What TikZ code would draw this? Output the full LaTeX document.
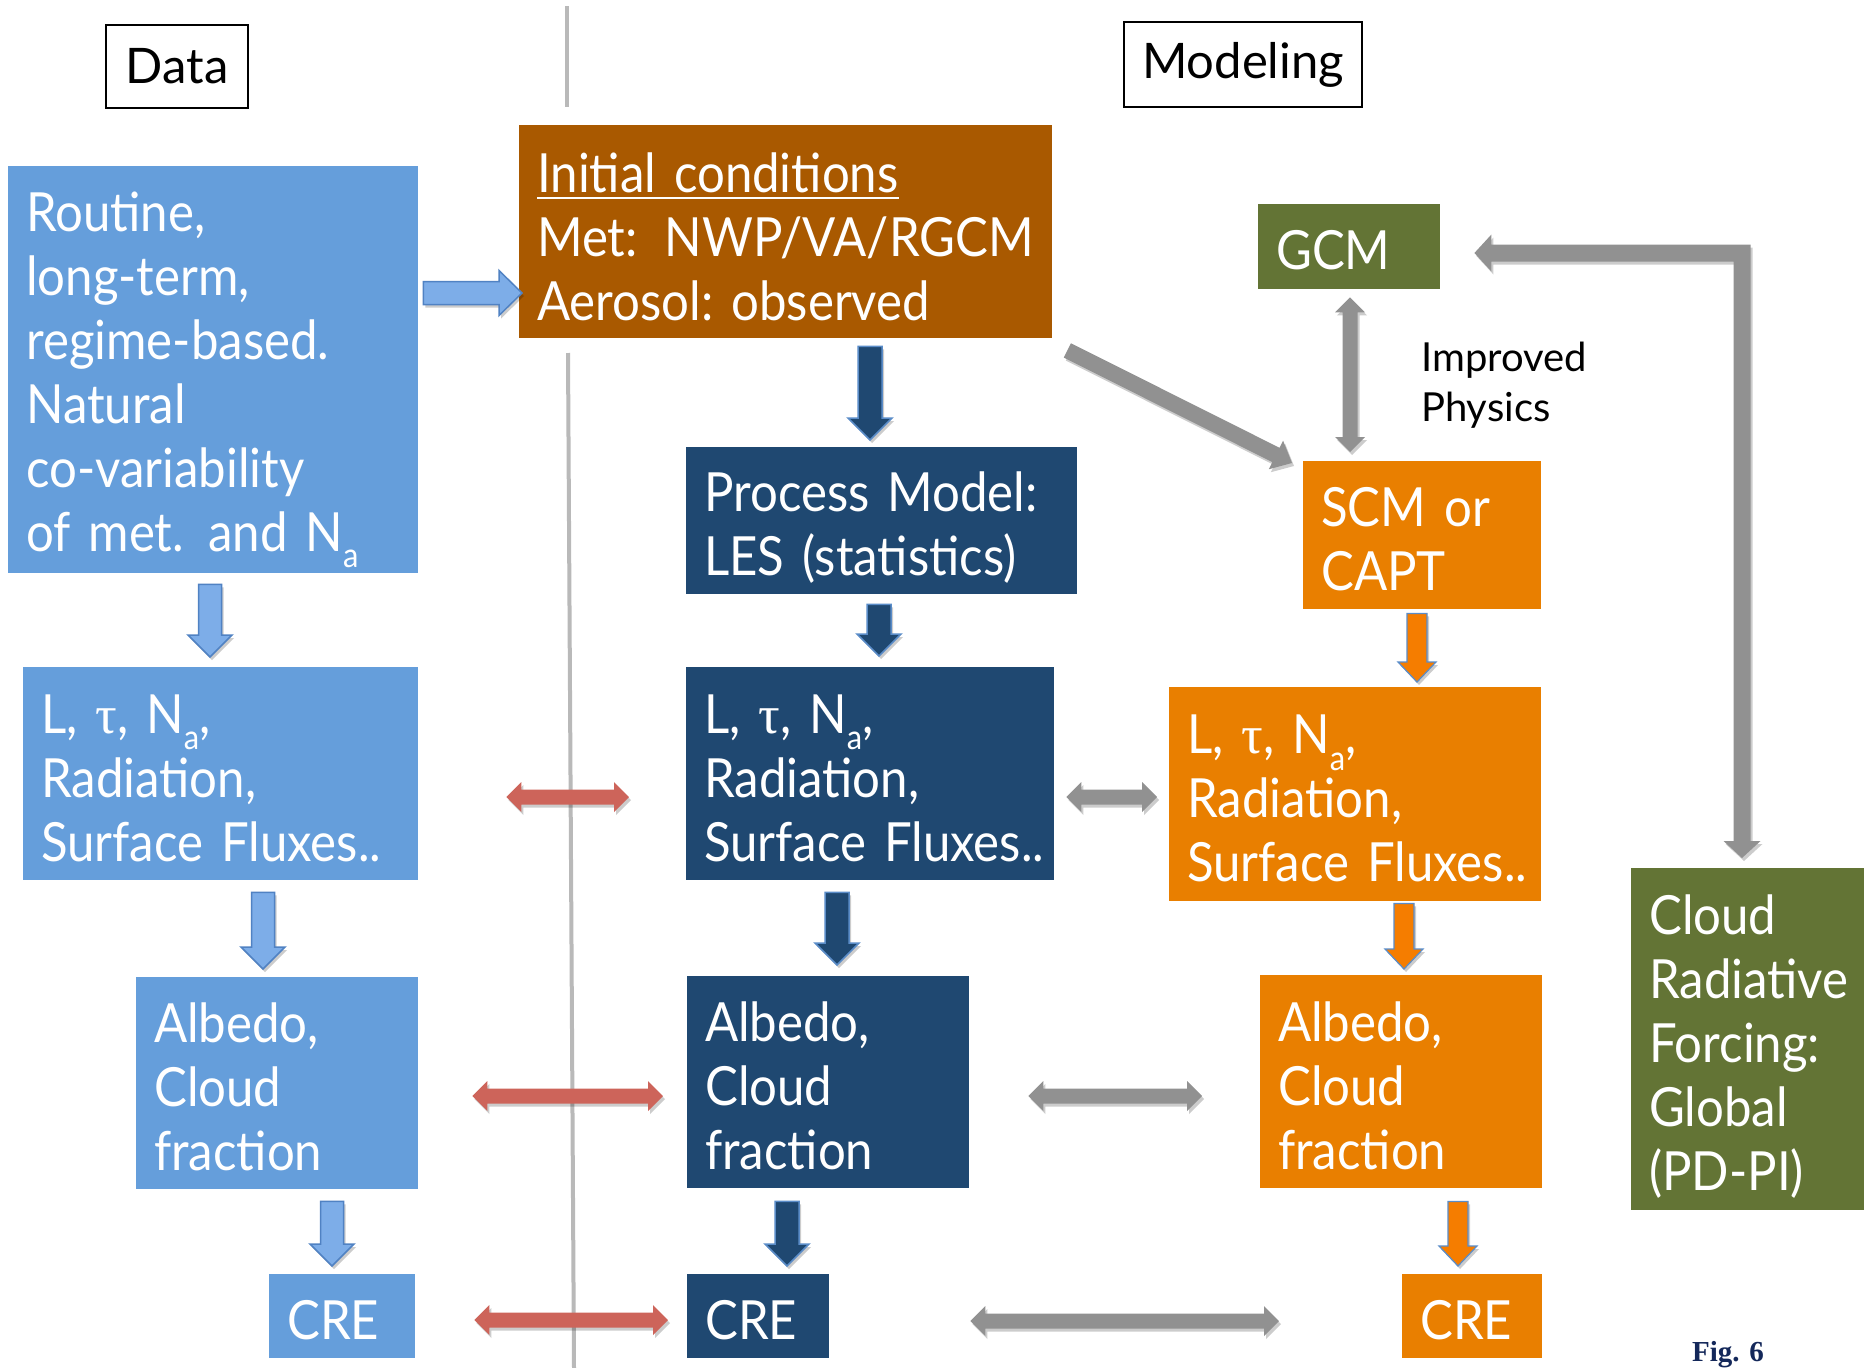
\documentclass[tikz,border=0pt]{standalone}
\usepackage{fontspec}
\setmainfont{Lato}[FakeStretch=0.91]
\newfontfamily\hdrfont{Lato}
\newfontfamily\grk{Liberation Serif}
\newfontfamily\figfont{Liberation Serif}
\usetikzlibrary{calc,shadows}
\definecolor{lbluebox}{RGB}{101,158,219}
\definecolor{brownbox}{RGB}{169,89,0}
\definecolor{dbluebox}{RGB}{31,72,113}
\definecolor{orangebox}{RGB}{233,127,0}
\definecolor{greenbox}{RGB}{99,116,53}
\definecolor{arrlb}{RGB}{125,173,232}
\definecolor{arrlbd}{RGB}{80,130,195}
\definecolor{arrorange}{RGB}{245,125,0}
\definecolor{arroutline}{RGB}{90,140,200}
\definecolor{redarr}{RGB}{205,100,90}
\definecolor{grayarr}{RGB}{145,145,145}
\definecolor{divider}{RGB}{185,185,185}
\definecolor{fignavy}{RGB}{20,40,90}
\newcommand\boxfont{\fontsize{54}{64}\selectfont\frenchspacing}
\newcommand\subA{\raisebox{-0.3em}{\fontsize{34}{34}\selectfont a}}
\newcommand\tauc{{\grk τ}}
\newcommand\tstrut[1]{\rule{0pt}{#1pt}}
\newcommand\ulin[1]{\vtop{\hbox{#1}\kern4pt\hrule height 2.5pt}}
% single block arrow: style, tail, tip, half shaft, half head, head length
\newcommand\singlearrow[6]{%
  \coordinate (bA) at (#2);
  \coordinate (bB) at (#3);
  \coordinate (bC) at ($(bB)!#6!(bA)$);
  \path[#1] ($(bA)!#4!90:(bB)$) -- ($(bC)!#4!90:(bB)$) -- ($(bC)!#5!90:(bB)$) -- (bB)
    -- ($(bC)!#5!-90:(bB)$) -- ($(bC)!#4!-90:(bB)$) -- ($(bA)!#4!-90:(bB)$) -- cycle;}
% double block arrow
\newcommand\doublearrow[6]{%
  \coordinate (bA) at (#2);
  \coordinate (bB) at (#3);
  \coordinate (bCA) at ($(bA)!#6!(bB)$);
  \coordinate (bCB) at ($(bB)!#6!(bA)$);
  \path[#1] (bA) -- ($(bCA)!#5!90:(bB)$) -- ($(bCA)!#4!90:(bB)$) -- ($(bCB)!#4!-90:(bA)$)
    -- ($(bCB)!#5!-90:(bA)$) -- (bB) -- ($(bCB)!#5!90:(bA)$) -- ($(bCB)!#4!90:(bA)$)
    -- ($(bCA)!#4!-90:(bB)$) -- ($(bCA)!#5!-90:(bB)$) -- cycle;}
\begin{document}
\begin{tikzpicture}[x=1pt,y=-1pt,
  box/.style={rectangle, anchor=north west, inner xsep=18pt, inner ysep=0pt, align=left, text=white, font=\boxfont},
  plainbox/.style={rectangle, anchor=north west, draw=black, line width=2pt, inner sep=0pt, font=\hdrfont\fontsize{49}{60}\selectfont, text=black},
  shadowed/.style={drop shadow={shadow xshift=2pt,shadow yshift=-3pt,opacity=.2,fill=black}},
  lbarr/.style={shadowed, fill=arrlb, draw=arrlbd, line width=1.5pt, line join=miter},
  dbarr/.style={shadowed, fill=dbluebox, draw=arroutline, line width=1.5pt, line join=miter},
  obarr/.style={shadowed, fill=arrorange, draw=arroutline, line width=1.2pt, line join=miter},
  redbarr/.style={shadowed, fill=redarr},
  graybarr/.style={shadowed, fill=grayarr},
  divline/.style={draw=divider, line width=4pt}
]
\useasboundingbox (0,0) rectangle (1864,1368);
\fill[white] (0,0) rectangle (1864,1368);

% divider
\draw[divline] (567,6) -- (567,107);
\draw[divline] (568,353) -- (574,1368);

% header boxes
\node[plainbox, minimum width=142pt, minimum height=83pt] (data) at (105,24) {Data};
\node[plainbox, minimum width=238pt, minimum height=85pt] (modeling) at (1123,21) {Modeling};

% data column
\node[box, fill=lbluebox, minimum width=410pt, minimum height=407pt, text width=374pt] (routine) at (8,166)
  {\tstrut{60}Routine,\\long-term,\\regime-based.\\Natural\\co-variability\\\mbox{of met.\hspace{24pt}and N\subA}};
\node[box, fill=lbluebox, minimum width=395pt, minimum height=213pt, text width=359pt] (lL) at (23,667)
  {\tstrut{48}\mbox{L, \tauc, N\subA,}\\Radiation,\\\mbox{Surface Fluxes..}};
\node[box, fill=lbluebox, minimum width=282pt, minimum height=212pt, text width=246pt] (lA) at (136,977)
  {\tstrut{48}Albedo,\\Cloud\\fraction};
\node[box, fill=lbluebox, minimum width=146pt, minimum height=84pt, text width=110pt] (lC) at (269,1274) {\tstrut{47}CRE};

% process column
\node[box, fill=brownbox, minimum width=533pt, minimum height=213pt, text width=497pt] (initial) at (519,125)
  {\ulin{\tstrut{50}Initial conditions}\\\mbox{Met:\hspace{27pt}NWP/VA/RGCM}\\\mbox{Aerosol: observed}};
\node[box, fill=dbluebox, minimum width=391pt, minimum height=147pt, text width=355pt] (process) at (686,447)
  {\tstrut{54}\mbox{Process Model:}\\\mbox{LES (statistics)}};
\node[box, fill=dbluebox, minimum width=368pt, minimum height=213pt, text width=332pt] (mL) at (686,667)
  {\tstrut{48}\mbox{L, \tauc, N\subA,}\\Radiation,\\\mbox{Surface Fluxes..}};
\node[box, fill=dbluebox, minimum width=282pt, minimum height=212pt, text width=246pt] (mA) at (687,976)
  {\tstrut{48}Albedo,\\Cloud\\fraction};
\node[box, fill=dbluebox, minimum width=142pt, minimum height=84pt, text width=106pt] (mC) at (687,1274) {\tstrut{47}CRE};

% model column
\node[box, fill=greenbox, minimum width=182pt, minimum height=85pt, text width=146pt] (gcm) at (1258,204) {\tstrut{47}GCM};
\node[anchor=base west, align=left, inner sep=0pt, font=\hdrfont\fontsize{40}{50}\selectfont] (improved) at (1421,421)
  {Improved\\Physics};
\node[box, fill=orangebox, minimum width=238pt, minimum height=148pt, text width=202pt] (scm) at (1303,461)
  {\tstrut{47}\mbox{SCM or}\\CAPT};
\node[box, fill=orangebox, minimum width=372pt, minimum height=214pt, text width=336pt] (rL) at (1169,687)
  {\tstrut{48}\mbox{L, \tauc, N\subA,}\\Radiation,\\\mbox{Surface Fluxes..}};
\node[box, fill=orangebox, minimum width=282pt, minimum height=213pt, text width=246pt] (rA) at (1260,975)
  {\tstrut{48}Albedo,\\Cloud\\fraction};
\node[box, fill=orangebox, minimum width=140pt, minimum height=84pt, text width=104pt] (rC) at (1402,1274) {\tstrut{47}CRE};
\node[box, fill=greenbox, minimum width=233pt, minimum height=342pt, text width=197pt] (crf) at (1631,868)
  {\tstrut{55}Cloud\\Radiative\\Forcing:\\Global\\(PD-PI)};

\node[anchor=base west, inner sep=0pt, text=fignavy, font=\figfont\bfseries\fontsize{29}{30}\selectfont] (fig) at (1692,1361) {Fig. 6};

% connector end points
\coordinate (a1s) at ($(routine.east|-0,293)+(5,0)$);
\coordinate (a1e) at ($(initial.west|-0,293)+(3,0)$);
\coordinate (a2s) at ($(initial.south-|870,0)+(0,8)$);
\coordinate (a2e) at ($(process.north-|870,0)+(0,-7)$);
\coordinate (a3s) at ($(initial.south east)+(15,12)$);
\coordinate (a3e) at ($(scm.north west)+(-11,2)$);
\coordinate (a4s) at ($(gcm.south-|1350,0)+(0,8)$);
\coordinate (a4e) at ($(scm.north-|1350,0)+(0,-9)$);
\coordinate (a5s) at ($(gcm.east|-0,253)+(34,0)$);
\coordinate (a5e) at ($(crf.north-|1742,0)+(0,-10)$);
\coordinate (lb1s) at ($(routine.south-|210,0)+(0,11)$);
\coordinate (lb1e) at ($(lL.north-|210,0)+(0,-10)$);
\coordinate (lb2s) at ($(lL.south-|263,0)+(0,12)$);
\coordinate (lb2e) at ($(lA.north-|263,0)+(0,-8)$);
\coordinate (lb3s) at ($(lA.south-|332,0)+(0,12)$);
\coordinate (lb3e) at ($(lC.north-|332,0)+(0,-8)$);
\coordinate (db1s) at ($(process.south-|879,0)+(0,10)$);
\coordinate (db1e) at ($(mL.north-|879,0)+(0,-11)$);
\coordinate (db2s) at ($(mL.south-|837,0)+(0,12)$);
\coordinate (db2e) at ($(mA.north-|837,0)+(0,-11)$);
\coordinate (db3s) at ($(mA.south-|787,0)+(0,13)$);
\coordinate (db3e) at ($(mC.north-|787,0)+(0,-8)$);
\coordinate (ob1s) at ($(scm.south-|1417,0)+(0,4)$);
\coordinate (ob1e) at ($(rL.north-|1417,0)+(0,-5)$);
\coordinate (ob2s) at ($(rL.south-|1404,0)+(0,2)$);
\coordinate (ob2e) at ($(rA.north-|1404,0)+(0,-6)$);
\coordinate (ob3s) at ($(rA.south-|1458,0)+(0,13)$);
\coordinate (ob3e) at ($(rC.north-|1458,0)+(0,-8)$);
\coordinate (r1s) at ($(lL.east|-0,797)+(88,0)$);
\coordinate (r1e) at ($(mL.west|-0,797)+(-57,0)$);
\coordinate (r2s) at ($(lA.east|-0,1096)+(54,0)$);
\coordinate (r2e) at ($(mA.west|-0,1096)+(-24,0)$);
\coordinate (r3s) at ($(lC.east|-0,1320)+(59,0)$);
\coordinate (r3e) at ($(mC.west|-0,1320)+(-19,0)$);
\coordinate (g1s) at ($(mL.east|-0,797)+(12,0)$);
\coordinate (g1e) at ($(rL.west|-0,797)+(-12,0)$);
\coordinate (g2s) at ($(mA.east|-0,1096)+(59,0)$);
\coordinate (g2e) at ($(rA.west|-0,1096)+(-58,0)$);
\coordinate (g3s) at ($(mC.east|-0,1321)+(141,0)$);
\coordinate (g3e) at ($(rC.west|-0,1321)+(-123,0)$);

% connectors
\singlearrow{lbarr}{a1s}{a1e}{11.5pt}{22.5pt}{23pt}
\singlearrow{dbarr}{a2s}{a2e}{12pt}{22pt}{22pt}
\singlearrow{graybarr}{a3s}{a3e}{8pt}{16pt}{18pt}
\doublearrow{graybarr}{a4s}{a4e}{7.5pt}{15pt}{15pt}
\path[graybarr] let \p1=(a5s), \p2=(a5e) in
  (\p1) -- (\x1+17pt,\y1+18.5pt) -- (\x1+17pt,\y1+8.5pt) -- (\x2+8.5pt,\y1+8.5pt)
  -- (\x2+8.5pt,\y2+17pt) -- (\x2+18.5pt,\y2+17pt) -- (\p2) -- (\x2-18.5pt,\y2+17pt)
  -- (\x2-8.5pt,\y2+17pt) -- (\x2-8.5pt,\y1-8.5pt) -- (\x1+17pt,\y1-8.5pt)
  -- (\x1+17pt,\y1-18.5pt) -- cycle;
\singlearrow{lbarr}{lb1s}{lb1e}{11.5pt}{22pt}{22pt}
\singlearrow{lbarr}{lb2s}{lb2e}{11.5pt}{22pt}{22pt}
\singlearrow{lbarr}{lb3s}{lb3e}{11.5pt}{22pt}{22pt}
\singlearrow{dbarr}{db1s}{db1e}{12pt}{22pt}{22pt}
\singlearrow{dbarr}{db2s}{db2e}{12pt}{22pt}{22pt}
\singlearrow{dbarr}{db3s}{db3e}{12pt}{22pt}{22pt}
\singlearrow{obarr}{ob1s}{ob1e}{10pt}{19pt}{20pt}
\singlearrow{obarr}{ob2s}{ob2e}{10pt}{19pt}{20pt}
\singlearrow{obarr}{ob3s}{ob3e}{10pt}{19pt}{20pt}
\doublearrow{redbarr}{r1s}{r1e}{7.5pt}{15pt}{15pt}
\doublearrow{redbarr}{r2s}{r2e}{7.5pt}{15pt}{15pt}
\doublearrow{redbarr}{r3s}{r3e}{7.5pt}{15pt}{15pt}
\doublearrow{graybarr}{g1s}{g1e}{7.5pt}{15pt}{15pt}
\doublearrow{graybarr}{g2s}{g2e}{7.5pt}{15pt}{15pt}
\doublearrow{graybarr}{g3s}{g3e}{7.5pt}{15pt}{15pt}
\end{tikzpicture}
\end{document}
